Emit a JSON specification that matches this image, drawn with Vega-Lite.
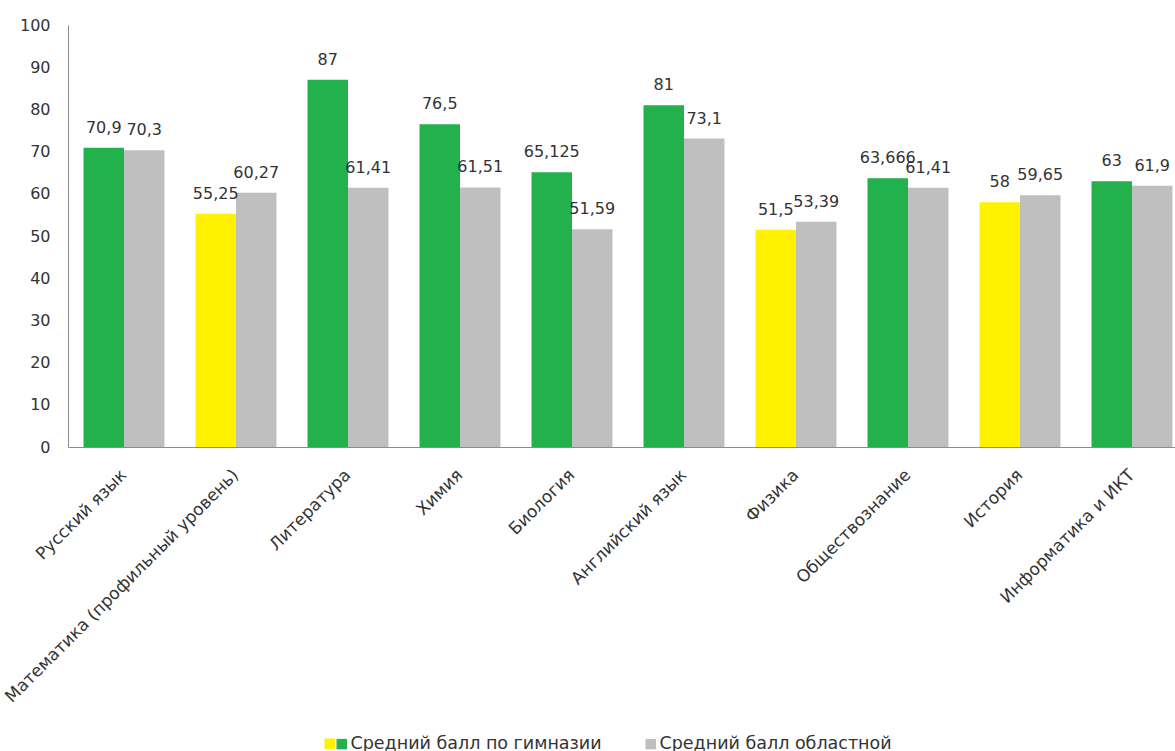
{
  "$schema": "https://vega.github.io/schema/vega-lite/v6.json",
  "width": 1107,
  "height": 422,
  "autosize": "none",
  "padding": {"left": 68, "top": 25, "right": 0, "bottom": 304},
  "background": "white",
  "config": {
    "view": {"stroke": null},
    "font": "DejaVu Sans",
    "locale": {"number": {"decimal": ",", "thousands": " ", "grouping": [3], "currency": ["", ""]}}
  },
  "data": {
    "values": [
      {"subject": "Русский язык", "group": "гимназия", "cat": "выше", "value": 70.9},
      {"subject": "Русский язык", "group": "область", "cat": "область", "value": 70.3},
      {"subject": "Математика (профильный уровень)", "group": "гимназия", "cat": "ниже", "value": 55.25},
      {"subject": "Математика (профильный уровень)", "group": "область", "cat": "область", "value": 60.27},
      {"subject": "Литература", "group": "гимназия", "cat": "выше", "value": 87},
      {"subject": "Литература", "group": "область", "cat": "область", "value": 61.41},
      {"subject": "Химия", "group": "гимназия", "cat": "выше", "value": 76.5},
      {"subject": "Химия", "group": "область", "cat": "область", "value": 61.51},
      {"subject": "Биология", "group": "гимназия", "cat": "выше", "value": 65.125},
      {"subject": "Биология", "group": "область", "cat": "область", "value": 51.59},
      {"subject": "Английский язык", "group": "гимназия", "cat": "выше", "value": 81},
      {"subject": "Английский язык", "group": "область", "cat": "область", "value": 73.1},
      {"subject": "Физика", "group": "гимназия", "cat": "ниже", "value": 51.5},
      {"subject": "Физика", "group": "область", "cat": "область", "value": 53.39},
      {"subject": "Обществознание", "group": "гимназия", "cat": "выше", "value": 63.666},
      {"subject": "Обществознание", "group": "область", "cat": "область", "value": 61.41},
      {"subject": "История", "group": "гимназия", "cat": "ниже", "value": 58},
      {"subject": "История", "group": "область", "cat": "область", "value": 59.65},
      {"subject": "Информатика и ИКТ", "group": "гимназия", "cat": "выше", "value": 63},
      {"subject": "Информатика и ИКТ", "group": "область", "cat": "область", "value": 61.9}
    ]
  },
  "encoding": {
    "x": {
      "field": "subject", "type": "nominal", "sort": null,
      "scale": {"paddingInner": 0.277, "paddingOuter": 0.0805, "align": 0.86, "round": false},
      "axis": {"title": null, "labelAngle": -45, "labelAlign": "right", "labelBaseline": "middle", "ticks": false, "tickSize": 0, "labelPadding": 25, "labelFontSize": 17, "labelColor": "#333333", "domainColor": "#8c8c8c", "labelLimit": 600, "labelOverlap": false}
    },
    "xOffset": {"field": "group", "type": "nominal", "sort": ["гимназия", "область"], "scale": {"domain": ["гимназия", "область"], "paddingInner": 0, "paddingOuter": 0}},
    "y": {
      "field": "value", "type": "quantitative",
      "scale": {"domain": [0, 100]},
      "axis": {"title": null, "values": [0, 10, 20, 30, 40, 50, 60, 70, 80, 90, 100], "ticks": false, "tickSize": 0, "grid": false, "labelPadding": 18, "labelFontSize": 16, "labelColor": "#333333", "domainColor": "#8c8c8c"}
    }
  },
  "layer": [
    {
      "transform": [{"filter": "datum.group == 'гимназия'"}],
      "mark": {"type": "bar"},
      "encoding": {
        "fill": {
          "field": "cat", "type": "nominal",
          "scale": {"domain": ["ниже", "выше"], "range": ["#FFF200", "#22B14C"]},
          "legend": {
            "orient": "none", "legendX": 253, "legendY": 710, "direction": "horizontal", "title": null,
            "values": ["ниже"],
            "symbolType": "square", "symbolSize": 110, "symbolStrokeWidth": 0,
            "labelOffset": 0, "labelFontSize": 17.5, "labelExpr": "''"
          }
        }
      }
    },
    {
      "transform": [{"filter": "datum.group == 'область'"}],
      "mark": {"type": "bar"},
      "encoding": {
        "color": {
          "field": "cat", "type": "nominal",
          "scale": {"domain": ["выше", "область"], "range": ["#22B14C", "#BFBFBF"]},
          "legend": {
            "orient": "none", "legendX": 265, "legendY": 710, "direction": "horizontal", "columns": 2, "title": null,
            "symbolType": "square", "symbolSize": 110, "symbolStrokeWidth": 0,
            "labelOffset": 0, "columnPadding": 1, "labelFontSize": 17.5, "labelColor": "#333333", "labelLimit": 600,
            "labelExpr": "datum.value == 'выше' ? 'Средний балл по гимназии\u2800\u2800\u2800' : 'Средний балл областной'"
          }
        }
      }
    },
    {
      "mark": {"type": "text", "dy": -15, "baseline": "alphabetic", "fontSize": 16, "color": "#333333"},
      "encoding": {"text": {"field": "value", "type": "quantitative", "format": "~g"}}
    }
  ]
}
